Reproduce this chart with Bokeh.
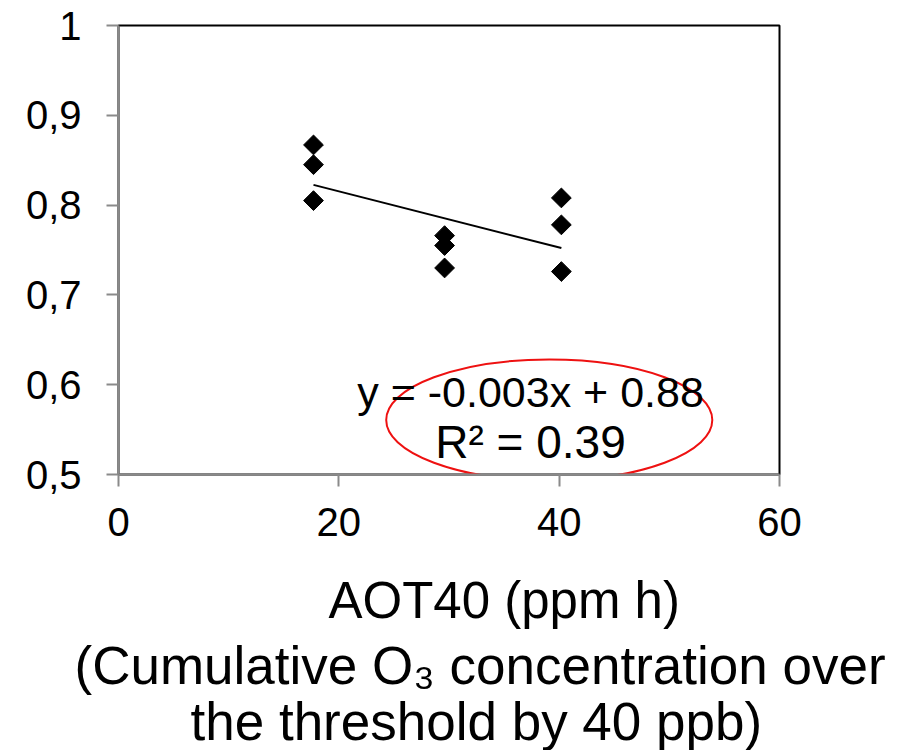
import numpy as np
from bokeh.plotting import figure
from bokeh.models import Range1d, FixedTicker, Label, Title
from bokeh.embed import file_html
from bokeh.resources import INLINE

# ---- data ----
aot40 = [17.7, 17.7, 17.7, 29.6, 29.6, 29.6, 40.2, 40.2, 40.2]
ratio = [0.867, 0.845, 0.805, 0.766, 0.755, 0.730, 0.808, 0.778, 0.726]

x_ticks = [0, 20, 40, 60]
y_ticks = [0.5, 0.6, 0.7, 0.8, 0.9, 1.0]
y_tick_labels = ["0,5", "0,6", "0,7", "0,8", "0,9", "1"]

equation_text = "y = -0.003x + 0.88"
r2_text = "R² = 0.39"
title_line1 = "AOT40 (ppm h)"
title_line2 = "(Cumulative O\u2083 concentration over"
title_line3 = "the threshold by 40 ppb)"

# highlight ellipse around R² (data units)
ell_x, ell_y, ell_w, ell_h = 39.1, 0.5607, 29.6, 0.1347

FONT = "Liberation Sans"

p = figure(width=901, height=750, output_backend="svg", toolbar_location=None,
           x_range=Range1d(0, 60), y_range=Range1d(0.5, 1.0),
           min_border_left=118, min_border_right=122,
           min_border_top=25, min_border_bottom=276)
p.background_fill_color = "white"
p.border_fill_color = "white"
p.xgrid.visible = False
p.ygrid.visible = False
p.outline_line_color = "black"
p.outline_line_width = 2
p.outline_line_alpha = 1.0

for ax in (p.xaxis[0], p.yaxis[0]):
    ax.axis_line_color = "#8a8a8a"
    ax.axis_line_width = 2
    ax.major_tick_line_color = "#8a8a8a"
    ax.major_tick_line_width = 2
    ax.major_tick_in = 0
    ax.major_tick_out = 12
    ax.minor_tick_line_color = None
    ax.major_label_text_font = FONT
    ax.major_label_text_font_size = "40px"
    ax.major_label_text_color = "black"

p.xaxis.ticker = FixedTicker(ticks=x_ticks)
p.yaxis.ticker = FixedTicker(ticks=y_ticks)
p.yaxis.major_label_overrides = {t: l for t, l in zip(y_ticks, y_tick_labels)}
p.xaxis.major_label_standoff = 21
p.yaxis.major_label_standoff = 25

# linear trend line (least squares fit of the points)
xs = np.array(aot40)
ys = np.array(ratio)
slope, intercept = np.polyfit(xs, ys, 1)
x_line = [xs.min(), xs.max()]
y_line = [slope * v + intercept for v in x_line]
p.line(x_line, y_line, line_color="black", line_width=2)

# diamond markers
p.scatter(aot40, ratio, marker="square", angle=np.pi / 4, size=14,
          fill_color="black", line_color="black")

# red ellipse
p.ellipse(x=[ell_x], y=[ell_y], width=[ell_w], height=[ell_h],
          fill_color=None, line_color="#ee1111", line_width=2)

# equation and R²
p.add_layout(Label(x=37.4, y=0.592, text=equation_text, text_align="center",
                   text_baseline="alphabetic", text_font=FONT,
                   text_font_size="43px", text_color="black"))
p.add_layout(Label(x=37.4, y=0.536, text=r2_text, text_align="center",
                   text_baseline="alphabetic", text_font=FONT,
                   text_font_size="46px", text_color="black"))

# x-axis title: three lines as titles stacked below the axis
def add_title(text, offset, standoff, size):
    t = Title(text=text, align="left", offset=offset, standoff=standoff,
              vertical_align="bottom", text_font=FONT, text_font_size=size,
              text_font_style="normal", text_color="black")
    p.add_layout(t, "below")

add_title(" ", 0, 13, "10px")          # small gap under the tick labels
add_title(title_line1, 210, 10, "51px")
add_title(title_line2, -44, 1, "53px")
add_title(title_line3, 72, -11, "53px")

open("out.html", "w").write(file_html(p, INLINE))
